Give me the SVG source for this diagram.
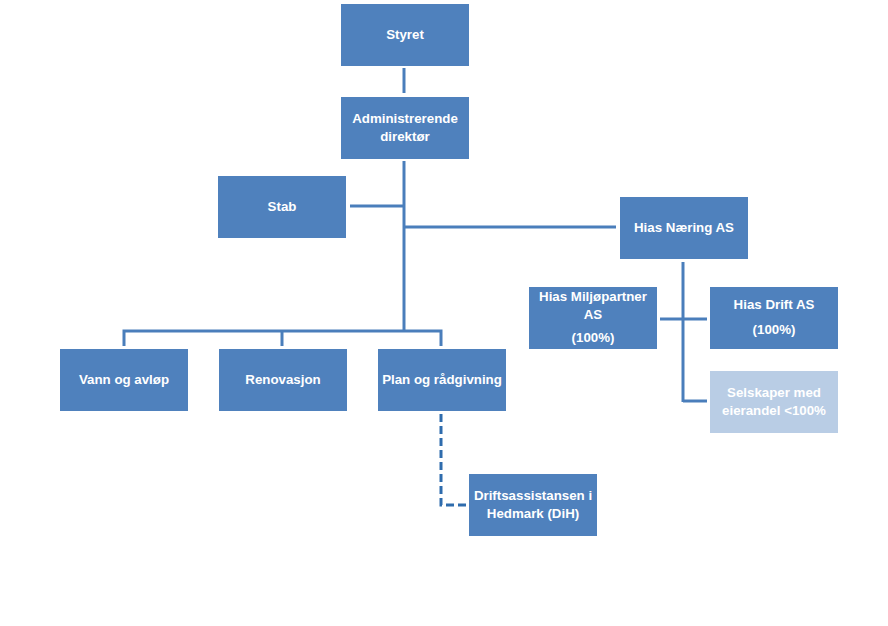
<svg xmlns="http://www.w3.org/2000/svg" width="888" height="626" viewBox="0 0 888 626">
<style>
.n{fill:#4F81BD}
.l{fill:#B9CDE5}
.t{font-family:"Liberation Sans",Arial,sans-serif;font-weight:bold;font-size:13.3px;fill:#fff;text-anchor:middle}
.c{stroke:#4A7EBB;stroke-width:3;fill:none}
.d{stroke:#2F6CAD;stroke-width:3;fill:none;stroke-dasharray:8,4}
</style>
<rect width="888" height="626" fill="#fff"/>
<g id="connectors">
<line class="c" x1="404" y1="68" x2="404" y2="93"/>
<line class="c" x1="404" y1="161" x2="404" y2="332"/>
<line class="c" x1="350" y1="206" x2="404" y2="206"/>
<line class="c" x1="404" y1="227" x2="616" y2="227"/>
<polyline class="c" points="124,346 124,331 441,331 441,346"/>
<line class="c" x1="282" y1="331" x2="282" y2="346"/>
<line class="c" x1="683" y1="262" x2="683" y2="402"/>
<polyline class="c" points="683,401 707,401"/>
<line class="c" x1="660" y1="319" x2="707" y2="319"/>
<polyline class="d" points="441,414 441,505 467,505"/>
</g>
<g id="styret"><rect class="n" x="341" y="4" width="128" height="62"/><text class="t" x="405" y="39">Styret</text></g>
<g id="admin"><rect class="n" x="341" y="97" width="128" height="62"/><text class="t" x="405" y="123">Administrerende</text><text class="t" x="405" y="141">direktør</text></g>
<g id="stab"><rect class="n" x="218" y="176" width="128" height="62"/><text class="t" x="282" y="211">Stab</text></g>
<g id="naering"><rect class="n" x="620" y="197" width="128" height="62"/><text class="t" x="684" y="232">Hias Næring AS</text></g>
<g id="miljo"><rect class="n" x="529" y="287" width="128" height="62"/><text class="t" x="593" y="301">Hias Miljøpartner</text><text class="t" x="593" y="319">AS</text><text class="t" x="593" y="342">(100%)</text></g>
<g id="drift"><rect class="n" x="710" y="287" width="128" height="62"/><text class="t" x="774" y="309">Hias Drift AS</text><text class="t" x="774" y="334">(100%)</text></g>
<g id="selskaper"><rect class="l" x="710" y="371" width="128" height="62"/><text class="t" x="774" y="397">Selskaper med</text><text class="t" x="774" y="415">eierandel &lt;100%</text></g>
<g id="vann"><rect class="n" x="60" y="349" width="128" height="62"/><text class="t" x="124" y="384">Vann og avløp</text></g>
<g id="renovasjon"><rect class="n" x="219" y="349" width="128" height="62"/><text class="t" x="283" y="384">Renovasjon</text></g>
<g id="plan"><rect class="n" x="378" y="349" width="128" height="62"/><text class="t" x="442" y="384">Plan og rådgivning</text></g>
<g id="dih"><rect class="n" x="469" y="474" width="128" height="62"/><text class="t" x="533" y="500">Driftsassistansen i</text><text class="t" x="533" y="518">Hedmark (DiH)</text></g>
</svg>
